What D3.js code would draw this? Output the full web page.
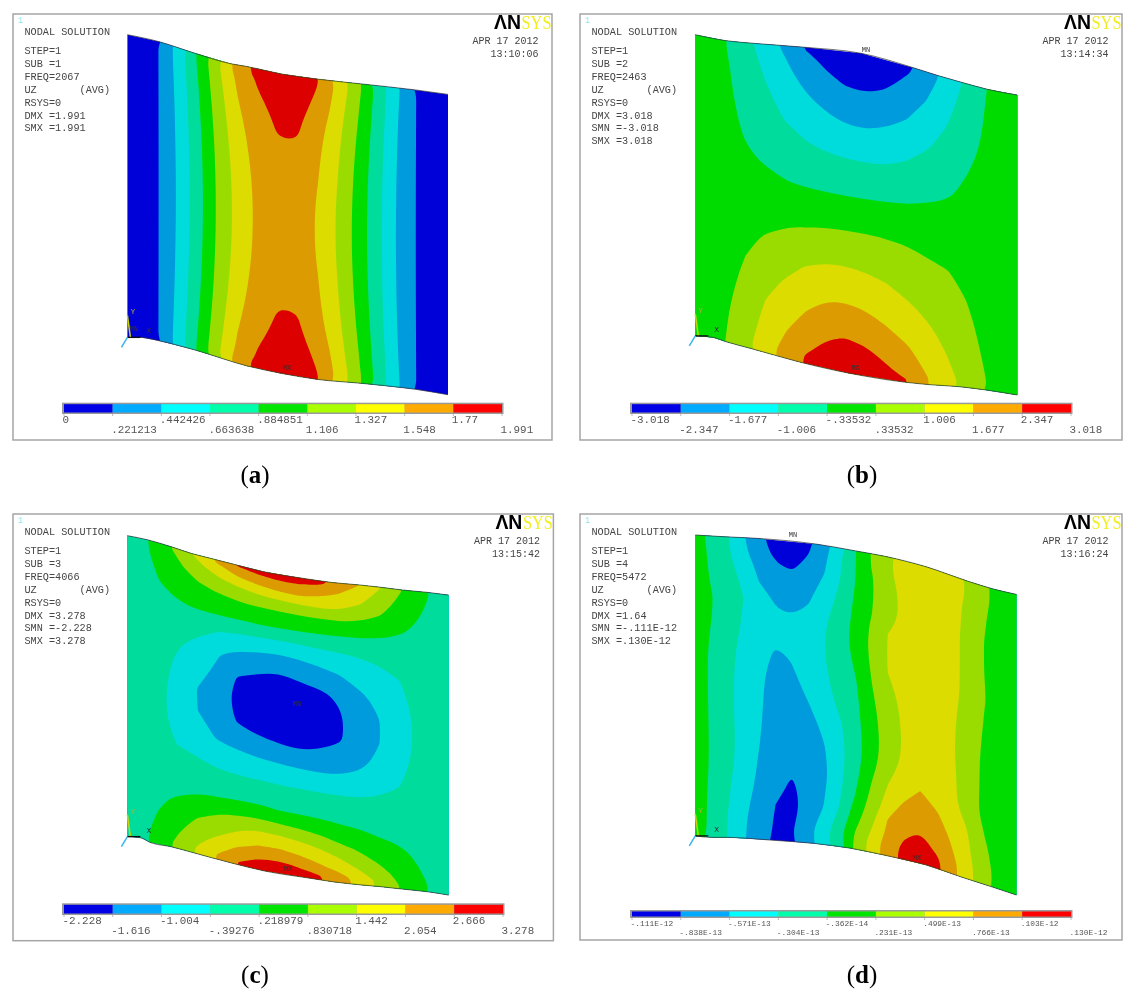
<!DOCTYPE html>
<html>
<head>
<meta charset="utf-8">
<script src="https://cdnjs.cloudflare.com/ajax/libs/d3/7.8.5/d3.min.js"></script>
<style>
body { margin: 0; background: #fff; }
text { font-family: "Liberation Mono", monospace; }
</style>
</head>
<body>
<script>
const width = 1129
const height = 1000

// ANSYS contour colours: plate bands and the brighter legend key
const plateColors = ["#0000d8", "#009bdc", "#00dcdc", "#00dc9b", "#00dc00", "#9bdc00", "#dcdc00", "#dc9b00", "#dc0000"]
const keyColors = ["#0000e6", "#00aaff", "#00ffff", "#00ffaa", "#00e600", "#aaff00", "#ffff00", "#ffaa00", "#ff0000"]

const bandLevels = [1, 2, 3, 4, 5, 6, 7, 8]

const legendA = ["0", ".221213", ".442426", ".663638", ".884851", "1.106", "1.327", "1.548", "1.77", "1.991"]
const legendB = ["-3.018", "-2.347", "-1.677", "-1.006", "-.33532", ".33532", "1.006", "1.677", "2.347", "3.018"]
const legendC = ["-2.228", "-1.616", "-1.004", "-.39276", ".218979", ".830718", "1.442", "2.054", "2.666", "3.278"]
const legendD = ["-.111E-12", "-.838E-13", "-.571E-13", "-.304E-13", "-.362E-14", ".231E-13", ".499E-13", ".766E-13", ".103E-12", ".130E-12"]

const infoA = ["STEP=1", "SUB =1", "FREQ=2067", "UZ       (AVG)", "RSYS=0", "DMX =1.991", "SMX =1.991"]
const infoB = ["STEP=1", "SUB =2", "FREQ=2463", "UZ       (AVG)", "RSYS=0", "DMX =3.018", "SMN =-3.018", "SMX =3.018"]
const infoC = ["STEP=1", "SUB =3", "FREQ=4066", "UZ       (AVG)", "RSYS=0", "DMX =3.278", "SMN =-2.228", "SMX =3.278"]
const infoD = ["STEP=1", "SUB =4", "FREQ=5472", "UZ       (AVG)", "RSYS=0", "DMX =1.64", "SMN =-.111E-12", "SMX =.130E-12"]

// plate outline: station along the plate and edge drop in plate heights
const topUA = [0, .098, .211, .323, .373, .481, .593, .729, .898, 1]
const topDropA = [0, .023, .062, .097, .106, .131, .148, .164, .184, .199]
const botUA = [0, .042, .098, .211, .373, .481, .593, .729, .898, 1]
const botDropA = [1.009, 1.009, 1.02, 1.051, 1.104, 1.129, 1.149, 1.162, 1.182, 1.2]

const topUB = [0, .096, .184, .341, .515, .677, .756, .828, .907, 1]
const topDropB = [0, .02, .029, .042, .062, .11, .137, .159, .182, .201]
const botUB = [0, .055, .094, .173, .246, .324, .481, .649, .733, .817, .901, 1]
const botDropB = [1.004, 1.009, 1.023, 1.046, 1.068, 1.091, 1.129, 1.158, 1.167, 1.173, 1.184, 1.201]

const topUC = [0, .064, .137, .199, .261, .334, .424, .558, .637, .721, .789, .856, .935, 1]
const topDropC = [0, .014, .037, .059, .076, .096, .12, .144, .156, .164, .172, .181, .189, .198]
const botUC = [0, .042, .07, .137, .193, .261, .328, .424, .57, .643, .727, .789, .856, .935, 1]
const botDropC = [1.003, 1.007, 1.022, 1.037, 1.053, 1.073, 1.092, 1.117, 1.142, 1.154, 1.164, 1.17, 1.178, 1.187, 1.198]

const topUD = [0, .094, .19, .381, .499, .595, .719, .854, .921, 1]
const topDropD = [0, .006, .011, .031, .053, .072, .106, .156, .178, .198]
const botUD = [0, .055, .1, .235, .37, .483, .601, .719, .831, .921, 1]
const botDropD = [1.003, 1.008, 1.008, 1.017, 1.028, 1.044, 1.07, 1.1, 1.141, 1.172, 1.2]

// where the field was sampled across (u) and down (v) each plate
const colsCoarse = [.031, .094, .156, .219, .281, .344, .406, .469, .531, .594, .656, .719, .781, .844, .906, .969]
const rowsA = [.008, .033, .1, .167, .233, .3, .367, .433, .5, .567, .633, .7, .767, .833, .9, .967, .992]
const rowsB = [.008, .033, .1, .167, .233, .3, .367, .433, .5, .567, .633, .7, .767, .833, .9, .967, .992]
const rowsC = [.002, .012, .035, .06, .09, .13, .18, .24, .31, .38, .45, .52, .59, .65, .72, .79, .84, .88, .92, .95, .975, .992]
const colsD = [.01, .05, .1, .15, .2, .25, .3, .35, .4, .45, .5, .55, .6, .65, .7, .75, .8, .85, .9, .95, .99]
const rowsD = [.02, .08, .14, .2, .26, .32, .38, .45, .52, .6, .68, .76, .82, .88, .94, .985]

// UZ fields, one inner list per column for a, b, c
const fieldA = [
  [.31, .31, .31, .31, .31, .31, .31, .31, .31, .31, .31, .31, .31, .31, .31, .31, .31],
  [.94, .94, .94, .94, .94, .94, .94, .94, .94, .94, .94, .94, .94, .94, .94, .94, .94],
  [2.34, 2.32, 2.26, 2.2, 2.16, 2.13, 2.11, 2.09, 2.09, 2.09, 2.11, 2.13, 2.16, 2.2, 2.26, 2.32, 2.34],
  [4.13, 4.08, 3.94, 3.83, 3.74, 3.67, 3.62, 3.59, 3.58, 3.59, 3.62, 3.67, 3.74, 3.83, 3.94, 4.08, 4.13],
  [5.85, 5.77, 5.6, 5.45, 5.33, 5.24, 5.18, 5.14, 5.13, 5.14, 5.18, 5.24, 5.33, 5.45, 5.6, 5.77, 5.85],
  [7.6, 7.27, 7.02, 6.81, 6.64, 6.51, 6.41, 6.36, 6.34, 6.36, 6.41, 6.51, 6.64, 6.81, 7.02, 7.27, 7.6],
  [8.35, 8.13, 7.88, 7.67, 7.5, 7.37, 7.27, 7.22, 7.2, 7.22, 7.27, 7.37, 7.5, 7.67, 7.88, 8.13, 8.35],
  [8.75, 8.6, 8.31, 8.1, 7.97, 7.7, 7.59, 7.53, 7.5, 7.53, 7.59, 7.7, 7.97, 8.1, 8.31, 8.6, 8.75],
  [8.5, 8.37, 8.22, 8.1, 7.95, 7.66, 7.57, 7.52, 7.5, 7.52, 7.57, 7.66, 7.95, 8.1, 8.22, 8.37, 8.5],
  [8, 7.98, 7.8, 7.39, 7.21, 7.08, 6.98, 6.92, 6.9, 6.92, 6.98, 7.08, 7.21, 7.39, 7.8, 7.98, 8],
  [6.79, 6.7, 6.48, 6.29, 6.14, 6.03, 5.95, 5.9, 5.88, 5.9, 5.95, 6.03, 6.14, 6.29, 6.48, 6.7, 6.79],
  [5.3, 5.23, 5.06, 4.92, 4.81, 4.72, 4.66, 4.62, 4.61, 4.62, 4.66, 4.72, 4.81, 4.92, 5.06, 5.23, 5.3],
  [3.66, 3.62, 3.53, 3.45, 3.38, 3.33, 3.3, 3.28, 3.27, 3.28, 3.3, 3.33, 3.38, 3.45, 3.53, 3.62, 3.66],
  [2.11, 2.08, 2.02, 1.97, 1.93, 1.89, 1.87, 1.86, 1.85, 1.86, 1.87, 1.89, 1.93, 1.97, 2.02, 2.08, 2.11],
  [.9, .9, .9, .9, .9, .9, .9, .9, .9, .9, .9, .9, .9, .9, .9, .9, .9],
  [.3, .3, .3, .3, .3, .3, .3, .3, .3, .3, .3, .3, .3, .3, .3, .3, .3]
]

const fieldB = [
  [4.3, 4.3, 4.35, 4.4, 4.4, 4.45, 4.45, 4.5, 4.5, 4.5, 4.5, 4.55, 4.55, 4.6, 4.6, 4.6, 4.6],
  [4.02, 4.05, 4.15, 4.2, 4.25, 4.3, 4.35, 4.4, 4.45, 4.5, 4.55, 4.6, 4.7, 4.8, 4.9, 4.97, 5],
  [3.32, 3.39, 3.53, 3.66, 3.8, 3.94, 4.1, 4.28, 4.46, 4.64, 4.82, 5, 5.17, 5.33, 5.5, 5.67, 5.75],
  [2.55, 2.67, 2.92, 3.17, 3.4, 3.64, 3.88, 4.15, 4.47, 4.78, 5.09, 5.4, 5.72, 6.03, 6.27, 6.52, 6.64],
  [1.76, 1.96, 2.29, 2.62, 2.94, 3.3, 3.66, 4.02, 4.47, 4.91, 5.33, 5.75, 6.15, 6.53, 6.91, 7.29, 7.47],
  [.97, 1.22, 1.71, 2.17, 2.6, 3.03, 3.48, 3.92, 4.44, 4.98, 5.53, 6.07, 6.53, 6.99, 7.48, 7.98, 8.15],
  [.5, .77, 1.23, 1.77, 2.3, 2.83, 3.35, 3.87, 4.46, 5.06, 5.66, 6.25, 6.81, 7.36, 7.92, 8.3, 8.55],
  [.2, .44, .93, 1.48, 2.05, 2.7, 3.3, 3.84, 4.46, 5.09, 5.68, 6.28, 6.85, 7.45, 8.06, 8.7, 8.75],
  [.1, .37, .85, 1.43, 2.01, 2.66, 3.28, 3.84, 4.46, 5.08, 5.62, 6.17, 6.73, 7.3, 7.91, 8.55, 8.65],
  [.3, .55, 1.08, 1.64, 2.19, 2.75, 3.32, 3.9, 4.48, 5.05, 5.52, 6, 6.5, 6.99, 7.57, 8.12, 8.3],
  [.75, 1.02, 1.5, 1.98, 2.48, 3, 3.49, 3.98, 4.48, 4.98, 5.37, 5.76, 6.19, 6.66, 7.17, 7.73, 8],
  [1.5, 1.68, 2.06, 2.48, 2.89, 3.29, 3.69, 4.08, 4.47, 4.86, 5.2, 5.52, 5.84, 6.19, 6.59, 6.98, 7.1],
  [2.36, 2.5, 2.77, 3.05, 3.33, 3.6, 3.88, 4.17, 4.47, 4.76, 5.05, 5.29, 5.52, 5.76, 6, 6.29, 6.43],
  [3.23, 3.31, 3.49, 3.66, 3.83, 4, 4.16, 4.32, 4.48, 4.64, 4.79, 4.95, 5.11, 5.27, 5.43, 5.58, 5.66],
  [4, 4.05, 4.1, 4.15, 4.2, 4.25, 4.3, 4.35, 4.4, 4.45, 4.5, 4.55, 4.65, 4.75, 4.85, 4.98, 4.97],
  [4.3, 4.3, 4.35, 4.4, 4.4, 4.45, 4.45, 4.5, 4.5, 4.5, 4.5, 4.55, 4.55, 4.6, 4.6, 4.6, 4.6]
]

const fieldC = [
  [3.55, 3.55, 3.55, 3.55, 3.5, 3.45, 3.4, 3.35, 3.3, 3.25, 3.25, 3.25, 3.25, 3.3, 3.3, 3.35, 3.4, 3.45, 3.5, 3.55, 3.55, 3.55],
  [4.41, 4.37, 4.3, 4.2, 4.07, 3.95, 3.8, 3.65, 3.5, 3.4, 3.3, 3.25, 3.3, 3.4, 3.55, 3.7, 3.85, 3.95, 4.1, 4.22, 4.32, 4.4],
  [5.3, 5.18, 4.96, 4.79, 4.57, 4.29, 3.94, 3.56, 3.12, 2.85, 2.7, 2.65, 2.75, 2.97, 3.38, 3.78, 4.1, 4.4, 4.72, 4.95, 5.14, 5.28],
  [6.32, 6.08, 5.74, 5.39, 4.98, 4.55, 4.02, 3.26, 2.71, 2.29, 1.96, 2, 2.44, 2.81, 3.31, 3.9, 4.49, 5.01, 5.44, 5.76, 6.03, 6.2],
  [7.27, 6.98, 6.44, 5.89, 5.33, 4.71, 4.05, 3, 2.08, 1.8, 1.6, 1.6, 1.87, 2.47, 3.25, 3.98, 4.87, 5.43, 5.96, 6.47, 6.91, 7.13],
  [8.1, 7.72, 7.08, 6.31, 5.58, 4.81, 4.03, 2.77, 1.65, .9, .6, .9, 1.66, 2.39, 3.24, 4.06, 5.06, 5.84, 6.62, 7.19, 7.67, 8],
  [8.5, 8.05, 7.43, 6.69, 5.71, 4.84, 4.02, 2.63, 1.33, .7, .4, .6, 1.46, 2.34, 3.25, 4.11, 5.26, 6.23, 7, 7.67, 8.2, 8.45],
  [8.7, 8.3, 7.6, 6.93, 5.86, 4.86, 4, 2.55, 1.19, .55, .25, .5, 1.27, 2.29, 3.22, 4, 5.14, 6.17, 7.05, 7.78, 8.4, 8.7],
  [8.6, 8.3, 7.71, 7.05, 6, 4.91, 4, 2.59, 1.41, .65, .35, .55, 1.11, 2.19, 3.19, 3.95, 5, 5.95, 6.83, 7.5, 8.12, 8.4],
  [8.4, 8.05, 7.5, 6.84, 6.03, 4.94, 3.98, 2.77, 1.61, .8, .5, .65, 1.2, 2.12, 3.18, 3.9, 4.8, 5.67, 6.56, 7.08, 7.74, 8.2],
  [7.77, 7.55, 7.03, 6.56, 5.97, 4.94, 3.96, 2.87, 1.95, 1.12, .85, .85, 1.46, 2.1, 3.15, 3.81, 4.5, 5.21, 6.04, 6.65, 7.24, 7.6],
  [7, 6.84, 6.49, 6.14, 5.62, 4.85, 3.96, 3.05, 2.3, 1.75, 1.45, 1.45, 1.7, 2.26, 3.12, 3.73, 4.29, 4.86, 5.5, 6, 6.53, 6.9],
  [6.15, 5.98, 5.72, 5.44, 5.11, 4.58, 3.9, 3.16, 2.64, 2.19, 1.95, 1.95, 2.21, 2.64, 3.15, 3.66, 4.04, 4.5, 4.94, 5.36, 5.71, 5.96],
  [5.15, 5.05, 4.89, 4.7, 4.48, 4.18, 3.81, 3.37, 2.95, 2.7, 2.55, 2.55, 2.7, 2.93, 3.28, 3.64, 3.9, 4.16, 4.47, 4.71, 4.91, 5.03],
  [4.37, 4.33, 4.24, 4.13, 4, 3.87, 3.72, 3.55, 3.4, 3.3, 3.2, 3.2, 3.3, 3.4, 3.5, 3.65, 3.78, 3.88, 4, 4.13, 4.25, 4.35],
  [3.65, 3.65, 3.62, 3.6, 3.55, 3.5, 3.45, 3.4, 3.35, 3.3, 3.3, 3.3, 3.3, 3.35, 3.4, 3.45, 3.5, 3.55, 3.6, 3.62, 3.65, 3.65]
]

// panel d is listed by rows
const fieldD = [
  [4.35, 3.74, 3.05, 2.04, 1.13, .75, .6, .85, 1.65, 2.85, 4, 5.13, 5.95, 6.3, 6.5, 6.5, 6.3, 5.97, 5.24, 4.65, 4.4],
  [4.35, 3.83, 3.26, 2.45, 1.66, 1.06, .85, 1.26, 1.9, 2.92, 4, 4.94, 5.73, 6.3, 6.5, 6.5, 6.3, 5.8, 5.1, 4.65, 4.4],
  [4.4, 3.92, 3.41, 2.82, 1.95, 1.6, 1.4, 1.7, 2.19, 3.12, 4.11, 4.92, 5.67, 6.2, 6.5, 6.5, 6.3, 5.75, 5.03, 4.6, 4.4],
  [4.45, 4.05, 3.53, 3, 2.41, 1.9, 1.65, 1.95, 2.59, 3.36, 4.22, 5, 5.7, 6.2, 6.5, 6.5, 6.25, 5.7, 4.98, 4.6, 4.4],
  [4.45, 4.02, 3.46, 2.94, 2.55, 2.17, 2.11, 2.5, 2.88, 3.52, 4.32, 5.2, 6.02, 6.3, 6.5, 6.5, 6.25, 5.73, 4.98, 4.6, 4.4],
  [4.45, 3.94, 3.38, 2.85, 2.5, 2.2, 2.25, 2.55, 2.95, 3.58, 4.33, 5.23, 6.05, 6.3, 6.5, 6.45, 6.2, 5.76, 5.01, 4.6, 4.4],
  [4.45, 3.84, 3.27, 2.75, 2.28, 1.9, 2.07, 2.5, 2.94, 3.49, 4.13, 5.14, 6.03, 6.3, 6.5, 6.45, 6.2, 5.77, 5.04, 4.6, 4.4],
  [4.45, 3.82, 3.24, 2.67, 2.11, 1.8, 1.85, 2.3, 2.81, 3.36, 3.92, 4.96, 5.83, 6.2, 6.45, 6.4, 6.15, 5.66, 4.96, 4.55, 4.35],
  [4.45, 3.84, 3.22, 2.65, 2.1, 1.7, 1.65, 2.02, 2.6, 3.19, 3.8, 4.76, 5.61, 6.15, 6.4, 6.35, 6.1, 5.56, 4.87, 4.5, 4.35],
  [4.45, 3.86, 3.25, 2.66, 2.07, 1.65, 1.5, 1.7, 2.18, 2.85, 3.67, 4.63, 5.46, 6.1, 6.4, 6.35, 6.1, 5.46, 4.8, 4.5, 4.35],
  [4.45, 3.89, 3.3, 2.67, 2.01, 1.6, 1.42, 1.55, 1.92, 2.7, 3.6, 4.58, 5.54, 6.15, 6.4, 6.4, 6.2, 5.46, 4.8, 4.5, 4.35],
  [4.45, 3.88, 3.28, 2.58, 1.88, 1.4, 1.08, 1.15, 1.75, 2.76, 3.81, 5, 6, 6.5, 7.03, 6.65, 6.25, 5.33, 4.8, 4.5, 4.35],
  [4.45, 3.82, 3.17, 2.42, 1.78, 1.29, .85, 1.33, 1.89, 2.89, 4.06, 5.33, 6.36, 7.17, 7.5, 7.13, 6.54, 5.9, 4.95, 4.55, 4.35],
  [4.45, 3.77, 3.08, 2.28, 1.6, 1, .75, 1.3, 2.04, 3.13, 4.52, 5.7, 7.05, 7.6, 7.9, 7.6, 6.82, 6.06, 5.12, 4.6, 4.4],
  [4.5, 3.71, 3, 2.15, 1.47, .9, .85, 1.58, 2.54, 3.63, 5.06, 6.19, 7.32, 8.05, 8.4, 7.86, 7.13, 6.22, 5.25, 4.65, 4.4],
  [4.5, 3.7, 3, 2.12, 1.45, .85, .97, 1.7, 2.66, 3.81, 5.37, 6.59, 7.76, 8.3, 8.6, 8.4, 7.42, 6.38, 5.35, 4.65, 4.4]
]

const byColumns = cols => d3.merge(d3.transpose(cols))

const panels = [
  { caption: "a", frame: [13, 14, 552, 440], plate: [127.4, 448, 34.7], values: byColumns(fieldA), cols: colsCoarse, rows: rowsA,
    topU: topUA, topDrop: topDropA, botU: botUA, botDrop: botDropA, info: infoA, legend: legendA, time: "13:10:06",
    key: [64, 502, 402.7, 414, 10.9], mx: [287, 368], mn: [134, 329] },
  { caption: "b", frame: [580, 14, 1122, 440], plate: [695.3, 1017.3, 34.7], values: byColumns(fieldB), cols: colsCoarse, rows: rowsB,
    topU: topUB, topDrop: topDropB, botU: botUB, botDrop: botDropB, info: infoB, legend: legendB, time: "13:14:34",
    key: [632, 1071, 402.7, 414, 10.9], mx: [855.6, 368], mn: [866, 50] },
  { caption: "c", frame: [13, 514, 553.4, 940.7], plate: [127.4, 448.7, 535.7], values: byColumns(fieldC), cols: colsCoarse, rows: rowsC,
    topU: topUC, topDrop: topDropC, botU: botUC, botDrop: botDropC, info: infoC, legend: legendC, time: "13:15:42",
    key: [64, 503, 903.3, 915, 10.9], mx: [288, 869], mn: [297, 704] },
  { caption: "d", frame: [580, 514, 1122, 940], plate: [695.3, 1016.5, 535], values: d3.merge(fieldD), cols: colsD, rows: rowsD,
    topU: topUD, topDrop: topDropD, botU: botUD, botDrop: botDropD, info: infoD, legend: legendD, time: "13:16:24",
    key: [632, 1071, 910, 918, 7.9], mx: [917, 858], mn: [793, 535] }
]

const svg = d3.select("body").append("svg")
  .attr("width", width)
  .attr("height", height)

// the reference is a soft scan, so everything gets a very light blur
svg.append("filter").attr("id", "soft")
  .attr("filterUnits", "userSpaceOnUse")
  .attr("x", 0).attr("y", 0).attr("width", width).attr("height", height)
  .append("feGaussianBlur").attr("stdDeviation", .4)

const chart = svg.append("g").attr("filter", "url(#soft)")

// runs well past the plate so the smoothed rings are not rounded inside the clip
const gridScale = (samples, n) => d3.scaleLinear()
  .domain([0].concat(samples.map((s, i) => i + .5), [n]))
  .range([-.15].concat(samples, [1.15]))

const drawPanel = (p, idx) => {
  const [fx0, fy0, fx1, fy1] = p.frame
  const [px0, px1, py0] = p.plate
  const g = chart.append("g")

  g.append("rect")
    .attr("x", fx0).attr("y", fy0)
    .attr("width", fx1 - fx0).attr("height", fy1 - fy0)
    .attr("fill", "#fff")
    .attr("stroke", "#a5a5a5")
    .attr("stroke-width", 1.5)

  const xScale = d3.scaleLinear([0, 1], [px0, px1])
  const yScale = d3.scaleLinear([0, 1], [py0, py0 + 300])
  const topEdge = d3.scaleLinear(p.topU, p.topDrop)
  const botEdge = d3.scaleLinear(p.botU, p.botDrop)

  const topPts = p.topU.map((u, i) => [xScale(u), yScale(p.topDrop[i])])
  const botPts = p.botU.map((u, i) => [xScale(u), yScale(p.botDrop[i])])

  const clipId = "plate-" + p.caption
  g.append("clipPath").attr("id", clipId)
    .append("path")
    .attr("d", d3.line()(topPts.concat(botPts.slice().reverse())) + "Z")

  const nx = p.cols.length
  const ny = p.rows.length
  const colScale = gridScale(p.cols, nx)
  const rowScale = gridScale(p.rows, ny)

  // grid position -> plate position -> screen
  const toScreen = ([x, y]) => {
    const u = colScale(x)
    const v = rowScale(y)
    const drop = topEdge(u) + v * (botEdge(u) - topEdge(u))
    return [xScale(u), yScale(drop)]
  }

  const ringLine = d3.line().curve(d3.curveBasisClosed)
  const contourPath = c => c.coordinates
    .map(poly => poly.map(ring => ringLine(ring.slice(0, -1).map(toScreen))).join(""))
    .join("")

  const contours = d3.contours()
    .size([nx, ny])
    .thresholds([-1].concat(bandLevels))(p.values)

  g.append("g")
    .attr("clip-path", "url(#" + clipId + ")")
    .selectAll("path")
    .data(contours)
    .enter()
    .append("path")
    .attr("d", contourPath)
    .attr("fill-rule", "evenodd")
    .attr("fill", (d, i) => plateColors[i])

  const edge = d3.line().curve(d3.curveMonotoneX)
  g.append("path").attr("d", edge(topPts)).attr("fill", "none").attr("stroke", "#333").attr("stroke-width", .7)
  g.append("path").attr("d", edge(botPts)).attr("fill", "none").attr("stroke", "#333").attr("stroke-width", .7)

  // triad at the plate origin
  const ox = xScale(0)
  const oy = yScale(botEdge(0))
  g.append("line").attr("x1", ox).attr("y1", oy - 22).attr("x2", ox + 3).attr("y2", oy).attr("stroke", "#c8d400").attr("stroke-width", 1.5)
  g.append("line").attr("x1", ox).attr("y1", oy).attr("x2", ox + 13).attr("y2", oy).attr("stroke", "#111").attr("stroke-width", 1.3)
  g.append("line").attr("x1", ox).attr("y1", oy).attr("x2", ox - 6).attr("y2", oy + 10).attr("stroke", "#39b5ea").attr("stroke-width", 1.5)
  g.append("text").attr("x", ox + 3).attr("y", oy - 23).attr("font-size", 8).attr("fill", "#b0b040").text("Y")
  g.append("text").attr("x", ox + 19).attr("y", oy - 4).attr("font-size", 8).attr("fill", "#333").text("X")

  g.append("text").attr("x", p.mx[0]).attr("y", p.mx[1]).attr("font-size", 7).attr("fill", "#333")
    .attr("text-anchor", "middle").attr("dominant-baseline", "middle").text("MX")
  g.append("text").attr("x", p.mn[0]).attr("y", p.mn[1]).attr("font-size", 7).attr("fill", "#333")
    .attr("text-anchor", "middle").attr("dominant-baseline", "middle").text("MN")

  // text block on the left
  const tx = fx0 + 11.5
  g.append("text").attr("x", tx).attr("y", fy0 + 18.7).attr("font-size", 10.2).attr("fill", "#444")
    .attr("dominant-baseline", "middle").text("NODAL SOLUTION")
  g.selectAll(".info")
    .data(p.info)
    .enter()
    .append("text")
    .attr("x", tx)
    .attr("y", (d, i) => fy0 + 37.7 + i * 12.85)
    .attr("font-size", 10.2)
    .attr("fill", "#444")
    .attr("dominant-baseline", "middle")
    .style("white-space", "pre")
    .text(d => d)

  g.append("text").attr("x", fx0 + 5).attr("y", fy0 + 9).attr("font-size", 8.5).attr("fill", "#8fe8f0").text("1")

  // date stamp and logo
  g.append("text").attr("x", fx1 - 13.5).attr("y", fy0 + 27.7).attr("font-size", 10).attr("fill", "#444")
    .attr("text-anchor", "end").attr("dominant-baseline", "middle").text("APR 17 2012")
  g.append("text").attr("x", fx1 - 13.5).attr("y", fy0 + 40).attr("font-size", 10).attr("fill", "#444")
    .attr("text-anchor", "end").attr("dominant-baseline", "middle").text(p.time)

  g.append("text").attr("x", fx1 - 58).attr("y", fy0 + 15)
    .attr("font-size", 19.5).attr("font-weight", "bold").attr("fill", "#000")
    .style("font-family", "Liberation Sans")
    .attr("textLength", 27).attr("lengthAdjust", "spacingAndGlyphs").text("ΛN")
  g.append("text").attr("x", fx1 - 30.5).attr("y", fy0 + 15)
    .attr("font-size", 19.5).attr("fill", "#f2ee20")
    .style("font-family", "Liberation Serif")
    .attr("textLength", 30).attr("lengthAdjust", "spacingAndGlyphs").text("SYS")

  // colour key
  const [kx0, kx1, ky0, ky1, kFont] = p.key
  const keyScale = d3.scaleLinear([0, 9], [kx0, kx1])
  g.append("rect")
    .attr("x", kx0 - 2).attr("y", ky0)
    .attr("width", kx1 - kx0 + 3.5).attr("height", ky1 - ky0)
    .attr("fill", "#9a9a9a")
  g.selectAll(".cell")
    .data(keyColors)
    .enter()
    .append("rect")
    .attr("x", (d, i) => keyScale(i))
    .attr("y", ky0 + 1.5)
    .attr("width", (d, i) => keyScale(i + 1) - keyScale(i))
    .attr("height", ky1 - ky0 - 3)
    .attr("fill", d => d)
  g.selectAll(".tick")
    .data(p.legend)
    .enter()
    .append("line")
    .attr("x1", (d, i) => keyScale(i)).attr("x2", (d, i) => keyScale(i))
    .attr("y1", ky1).attr("y2", ky1 + 2)
    .attr("stroke", "#bbb")
  const rowGap = kFont < 10 ? 9 : 10.3
  g.selectAll(".label")
    .data(p.legend)
    .enter()
    .append("text")
    .attr("x", (d, i) => keyScale(i) - 1.5)
    .attr("y", (d, i) => ky1 + (kFont < 10 ? 5.7 : 6) + (i % 2) * rowGap)
    .attr("font-size", kFont)
    .attr("fill", "#555")
    .attr("dominant-baseline", "middle")
    .text(d => d)

  // caption under the frame
  const cap = g.append("text")
    .attr("x", idx % 2 === 0 ? 255 : 862)
    .attr("y", idx < 2 ? 476.7 : 976.7)
    .attr("text-anchor", "middle")
    .attr("dominant-baseline", "middle")
    .attr("font-size", 25)
    .attr("fill", "#000")
    .style("font-family", "Liberation Serif")
  cap.append("tspan").text("(")
  cap.append("tspan").attr("font-weight", "bold").text(p.caption)
  cap.append("tspan").text(")")
}

panels.forEach(drawPanel)
</script>
</body>
</html>
